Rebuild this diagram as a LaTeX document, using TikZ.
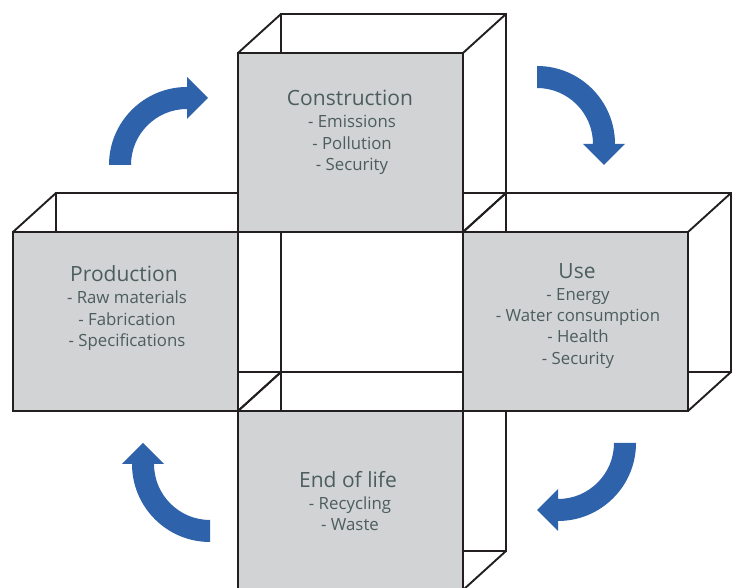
\documentclass[tikz,border=0pt]{standalone}
\usepackage{fontspec}
\setmainfont{Open Sans}
\definecolor{edge}{RGB}{35,31,32}
\definecolor{face}{RGB}{209,211,212}
\definecolor{flow}{RGB}{46,98,171}
\definecolor{ink}{RGB}{77,93,93}
\newcommand\cubeback[4]{%
  \draw[boxline,shift={(43,39)}] (#1,#2) rectangle (#3,#4);
  \draw[boxline] (#1,#2) -- ++(43,39);
  \draw[boxline] (#3,#2) -- ++(43,39);
  \draw[boxline] (#1,#4) -- ++(43,39);
  \draw[boxline] (#3,#4) -- ++(43,39);
}
\begin{document}
\begin{tikzpicture}[x=1pt,y=1pt,
  boxline/.style={draw=edge,line width=1.9pt},
  frontface/.style={draw=edge,fill=face,line width=1.9pt},
  ttl/.style={anchor=base,inner sep=0pt,text=ink,font=\fontsize{21}{25}\selectfont},
  itm/.style={anchor=base,inner sep=0pt,text=ink,font=\fontsize{16.8}{20}\selectfont},
  bluearrow/.style={fill=flow,draw=none}]
\clip (0,0) rectangle (736,588);
\fill[white] (0,0) rectangle (736,588);
% back parts of the four open boxes
\cubeback{238}{356}{463}{535}
\cubeback{13}{177}{238}{356}
\cubeback{463}{177}{688}{356}
\cubeback{238}{-2}{463}{177}
% front faces
\path[frontface] (238,356) rectangle (463,535);
\path[frontface] (13,177) rectangle (238,356);
\path[frontface] (463,177) rectangle (688,356);
\path[frontface] (238,-2) rectangle (463,177);
% texts
\node[ttl] (cons) at (350,482) {Construction};
\node[itm] (cons1) at (352,460) {- Emissions};
\node[itm] (cons2) at (352,438.5) {- Pollution};
\node[itm] (cons3) at (352,417) {- Security};
\node[ttl] (prod) at (124,306) {Production};
\node[itm] (prod1) at (127,284) {- Raw materials};
\node[itm] (prod2) at (127,262) {- Fabrication};
\node[itm] (prod3) at (127,241) {- Specifications};
\node[ttl] (use) at (577,309) {Use};
\node[itm] (use1) at (578,287) {- Energy};
\node[itm] (use2) at (578,266) {- Water consumption};
\node[itm] (use3) at (578,245) {- Health};
\node[itm] (use4) at (578,223) {- Security};
\node[ttl] (eol) at (348,100) {End of life};
\node[itm] (eol1) at (350,78) {- Recycling};
\node[itm] (eol2) at (350,57) {- Waste};
% curved arrows
\path[bluearrow] (109,423) arc (180:90:78) -- (187,511) -- (208,490) -- (187,469) -- (187,479) arc (90:180:56) -- cycle;
\path[bluearrow] (537,522) arc (90:0:78) -- (625,444) -- (604,423) -- (583,444) -- (593,444) arc (0:90:56) -- cycle;
\path[bluearrow] (636,145) arc (0:-90:78) -- (558,57) -- (537,78) -- (558,99) -- (558,89) arc (-90:0:56) -- cycle;
\path[bluearrow] (210,46) arc (-90:-180:78) -- (122,124) -- (143,145) -- (164,124) -- (154,124) arc (180:270:56) -- cycle;
\end{tikzpicture}
\end{document}
